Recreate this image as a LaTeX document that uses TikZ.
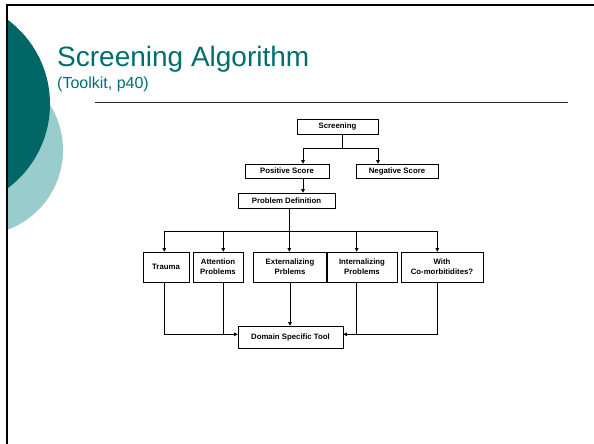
\documentclass[tikz,border=0pt]{standalone}
\usepackage{fontspec}
\setmainfont{Liberation Sans}
\usetikzlibrary{arrows.meta}
\definecolor{darkteal}{RGB}{0,102,102}
\definecolor{lightteal}{RGB}{153,204,204}
\definecolor{titleteal}{RGB}{0,110,110}
\begin{document}
\begin{tikzpicture}[x=1pt,y=-1pt,
  box/.style={draw, line width=0.6pt, inner sep=0pt, align=center,
    font=\fontsize{7.8}{10}\selectfont\bfseries},
  conn/.style={line width=0.6pt},
  arr/.style={conn,-{Triangle[length=3.5pt,width=3.5pt]}}]
\useasboundingbox (0,0) rectangle (594,444);
\fill[white] (0,0) rectangle (594,444);
% decorative circles
\begin{scope}
  \clip (7,5) rectangle (594,444);
  \fill[lightteal] (-22,150) circle (85pt);
  \fill[darkteal] (-55,104) circle (105pt);
\end{scope}
% frame
\draw[line width=2.2pt] (7,444) -- (7,4.8) -- (594,4.8);
% title
\node[anchor=base west, inner sep=0pt, text=titleteal, font=\fontsize{28}{30}\selectfont] (title) at (57,66.7) {Screening Algorithm};
\node[anchor=base west, inner sep=0pt, text=titleteal, font=\fontsize{16}{18}\selectfont] (sub) at (57,88.5) {(Toolkit, p40)};
\draw[line width=1pt, black!85] (95,102) -- (568,102);
% nodes
\node[box, minimum width=81pt, minimum height=15pt] (scr) at (337.5,126.5) {Screening};
\node[box, minimum width=84pt, minimum height=14pt] (pos) at (287,171) {Positive Score};
\node[box, minimum width=82pt, minimum height=14pt] (neg) at (397,171) {Negative Score};
\node[box, minimum width=97pt, minimum height=15pt] (pd) at (286.5,200.5) {Problem Definition};
\node[box, minimum width=46pt, minimum height=30pt] (tr) at (166,267) {Trauma};
\node[box, minimum width=50pt, minimum height=30pt] (att) at (218,267) {Attention\\Problems};
\node[box, minimum width=73.5pt, minimum height=30pt] (ext) at (290,267) {Externalizing\\Prblems};
\node[box, minimum width=70pt, minimum height=30pt] (int) at (362,267) {Internalizing\\Problems};
\node[box, minimum width=82pt, minimum height=30pt] (with) at (442,267) {With\\Co-morbitidites?};
\node[box, minimum width=105pt, minimum height=22pt] (dom) at (290.5,337) {Domain Specific Tool};
% helper coordinates
\coordinate (s1) at (342,148);
\coordinate (px) at (303,0);
\coordinate (nx) at (378,0);
\coordinate (b1) at (289.3,231);
\coordinate (cx1) at (164.3,0);
\coordinate (cx2) at (223.3,0);
\coordinate (cx4) at (356.7,0);
\coordinate (cx5) at (437.3,0);
\coordinate (yb) at (0,334.3);
% connectors top
\draw[conn] (scr.south -| s1) -- (s1);
\draw[arr] (s1) -| (pos.north -| px);
\draw[arr] (s1) -| (neg.north -| nx);
\draw[arr] (pos.south -| px) -- (pd.north -| px);
\draw[conn] (pd.south -| b1) -- (b1);
\draw[arr] (b1) -| (tr.north -| cx1);
\draw[arr] (b1) -| (att.north -| cx2);
\draw[arr] (b1) -- (ext.north -| b1);
\draw[arr] (b1) -| (int.north -| cx4);
\draw[arr] (b1) -| (with.north -| cx5);
% connectors bottom
\draw[arr] (tr.south -| cx1) |- (dom.west |- yb);
\draw[conn] (att.south -| cx2) -- (cx2 |- yb);
\draw[arr] (ext.south) -- (ext.south |- dom.north);
\draw[arr] (with.south -| cx5) |- (dom.east |- yb);
\draw[conn] (int.south -| cx4) -- (cx4 |- yb);
\end{tikzpicture}
\end{document}
